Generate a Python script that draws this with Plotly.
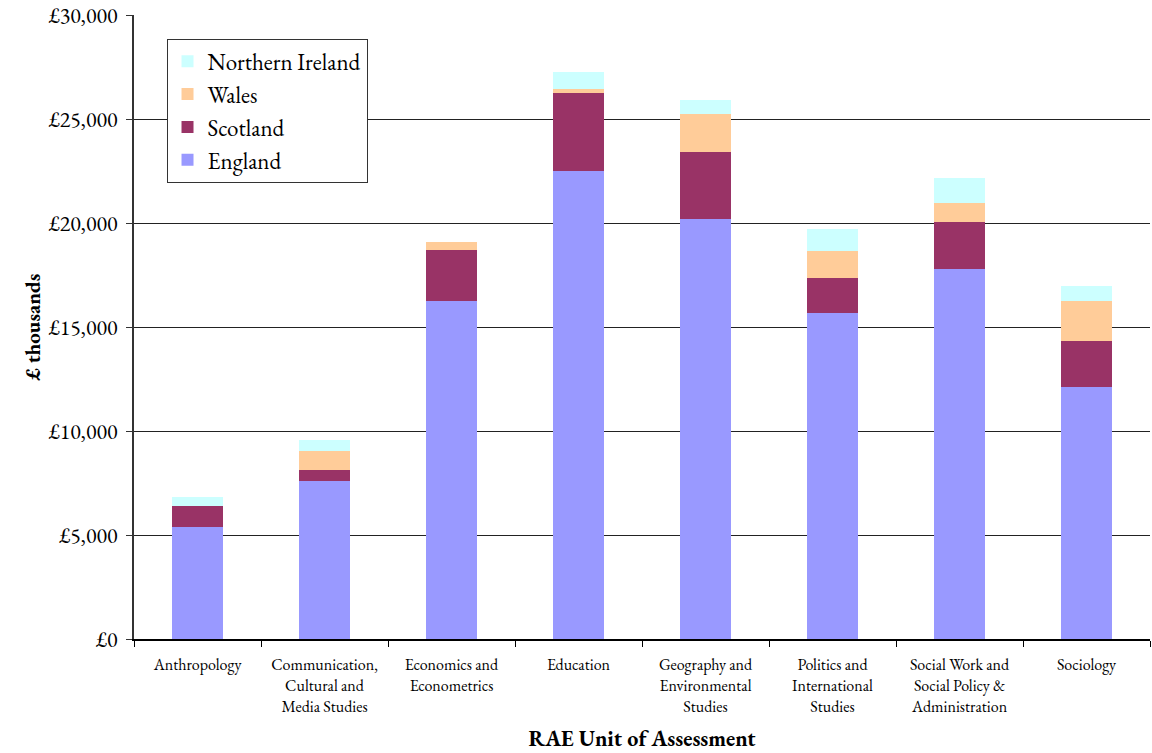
import plotly.graph_objects as go

categories = [
    "Anthropology",
    "Communication,<br>Cultural and<br>Media Studies",
    "Economics and<br>Econometrics",
    "Education",
    "Geography and<br>Environmental<br>Studies",
    "Politics and<br>International<br>Studies",
    "Social Work and<br>Social Policy &<br>Administration",
    "Sociology",
]

# Funding in £ thousands, by nation
england = [5400, 7600, 16270, 22490, 20190, 15650, 17800, 12110]
scotland = [1000, 530, 2430, 3780, 3210, 1720, 2250, 2240]
wales = [0, 910, 390, 190, 1820, 1290, 910, 1920]
northern_ireland = [450, 530, 0, 810, 710, 1050, 1190, 720]

y_ticks = [0, 5000, 10000, 15000, 20000, 25000, 30000]
y_tick_labels = ["£0", "£5,000", "£10,000", "£15,000", "£20,000", "£25,000", "£30,000"]

series = [
    ("England", england, "#9999FF"),
    ("Scotland", scotland, "#993366"),
    ("Wales", wales, "#FFCC99"),
    ("Northern Ireland", northern_ireland, "#CCFFFF"),
]

SERIF = "Garamond, 'EB Garamond', 'Liberation Serif', 'DejaVu Serif', serif"

fig = go.Figure()
for name, vals, color in series:
    fig.add_trace(go.Bar(
        x=categories, y=vals, name=name,
        marker=dict(color=color, line=dict(width=0)),
    ))

fig.update_layout(
    barmode="stack",
    bargap=0.6,
    width=1152, height=753,
    margin=dict(l=134, r=2, t=15, b=114),
    plot_bgcolor="white",
    paper_bgcolor="white",
    font=dict(family=SERIF, color="black"),
    legend=dict(
        x=0.032, y=0.962, xanchor="left", yanchor="top",
        traceorder="reversed",
        bordercolor="#333333", borderwidth=1,
        bgcolor="white",
        font=dict(size=23, family=SERIF),
        itemsizing="constant",
        tracegroupgap=0,
    ),
)

fig.update_yaxes(
    range=[0, 30000],
    tickmode="array",
    tickvals=y_ticks,
    ticktext=y_tick_labels,
    tickfont=dict(size=22, family=SERIF),
    ticklabeloverflow="allow",
    showgrid=True, gridcolor="#222222", gridwidth=1,
    showline=True, linecolor="#333333", linewidth=2,
    ticks="outside", ticklen=6, tickcolor="#333333",
    ticklabelstandoff=4,
    zeroline=False,
    automargin=False,
    title=dict(text="<b>£ thousands</b>", font=dict(size=21, family=SERIF), standoff=2),
)

fig.update_xaxes(
    showline=True, linecolor="black", linewidth=2,
    ticks="outside", tickson="boundaries", ticklen=6, tickcolor="black",
    tickfont=dict(size=16, family=SERIF),
    tickangle=0,
    ticklabelstandoff=10,
    automargin=False,
    title=dict(text="<b>RAE Unit of Assessment</b>", font=dict(size=22, family=SERIF), standoff=24),
)

fig.write_html("out.html")
